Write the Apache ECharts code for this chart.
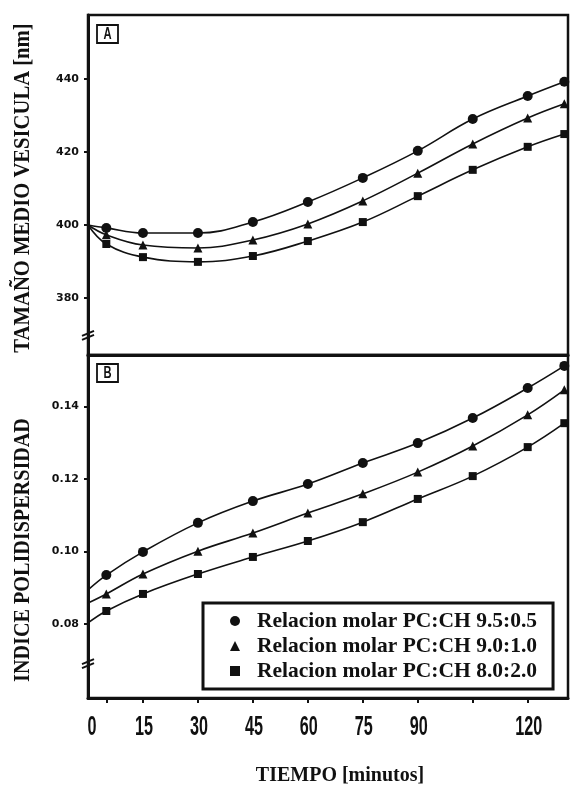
<!DOCTYPE html>
<html>
<head>
<meta charset="utf-8">
<script src="https://cdn.jsdelivr.net/npm/echarts@6/dist/echarts.min.js"></script>
<style>
html,body{margin:0;padding:0;background:#fff;}
#c{width:570px;height:787px;}
</style>
</head>
<body>
<div id="c"></div>
<script>
// ---- data ----
const times = [0, 5, 15, 30, 45, 60, 75, 90, 105, 120, 130];
const seriesNames = [
  'Relacion molar PC:CH 9.5:0.5',
  'Relacion molar PC:CH 9.0:1.0',
  'Relacion molar PC:CH 8.0:2.0'
];
// Panel A: tamaño medio vesícula [nm]
const sizeA95 = [400, 399.2, 397.8, 397.8, 400.8, 406.3, 412.9, 420.3, 429.0, 435.3, 439.2];
const sizeA90 = [400, 397.3, 394.5, 393.7, 395.9, 400.3, 406.6, 414.2, 422.2, 429.3, 433.2];
const sizeA80 = [400, 394.8, 391.2, 389.9, 391.5, 395.6, 400.8, 407.9, 415.1, 421.4, 424.9];
// Panel B: índice de polidispersidad
const pdiB95 = [0.0894, 0.0935, 0.0999, 0.1079, 0.1139, 0.1186, 0.1244, 0.1299, 0.1368, 0.1451, 0.1512];
const pdiB90 = [0.0858, 0.0883, 0.0938, 0.1001, 0.1051, 0.1106, 0.1159, 0.1219, 0.1291, 0.1377, 0.1446];
const pdiB80 = [0.0803, 0.0836, 0.0883, 0.0938, 0.0985, 0.1029, 0.1081, 0.1145, 0.1208, 0.1288, 0.1354];
// ticks / labels
const xLabelTicks = [0, 15, 30, 45, 60, 75, 90, 120];
const xTickMarks = [5, 15, 30, 45, 60, 75, 90, 105, 120];
const yTicksA = [380, 400, 420, 440];
const yTicksB = [0.08, 0.10, 0.12, 0.14];

const symbols = ['circle', 'triangle', 'rect'];
const symSizes = [10, 9, 8];

function mk(vals) {
  return times.map((t, i) => i === 0 ? { value: [t, vals[i]], symbol: 'none' } : [t, vals[i]]);
}

const chart = echarts.init(document.getElementById('c'), null, { renderer: 'canvas' });

const serif = 'Liberation Serif';
const numFont = 'DejaVu Sans';

function xAxisCfg(gridIndex, showTicks) {
  return {
    type: 'value', gridIndex, min: 0, max: 131,
    axisLine: { show: true, lineStyle: { color: '#111', width: 3 } },
    splitLine: { show: false },
    axisTick: showTicks ? { show: true, inside: false, length: 5, customValues: xTickMarks, lineStyle: { color: '#111', width: 2 } } : { show: false },
    axisLabel: { show: false }
  };
}
function yAxisCfg(gridIndex, min, max, ticks, fmt) {
  return {
    type: 'value', gridIndex, min, max,
    axisLine: { show: true, lineStyle: { color: '#111', width: 3 } },
    splitLine: { show: false },
    axisTick: { show: true, length: 4, customValues: ticks, lineStyle: { color: '#111', width: 2 } },
    axisLabel: { show: true, customValues: ticks, margin: 9, formatter: fmt,
      fontFamily: numFont, fontWeight: 'bold', fontSize: 11, color: '#111' }
  };
}

const series = [];
const dataA = [sizeA95, sizeA90, sizeA80];
const dataB = [pdiB95, pdiB90, pdiB80];
for (let k = 0; k < 3; k++) {
  series.push({
    name: seriesNames[k], type: 'line', xAxisIndex: 0, yAxisIndex: 0,
    data: mk(dataA[k]), smooth: 0.4, symbol: symbols[k], symbolSize: symSizes[k],
    showAllSymbol: true, clip: false,
    lineStyle: { color: '#111', width: 1.6 }, itemStyle: { color: '#111' }
  });
}
for (let k = 0; k < 3; k++) {
  series.push({
    name: seriesNames[k], type: 'line', xAxisIndex: 1, yAxisIndex: 1,
    data: mk(dataB[k]), smooth: 0.4, symbol: symbols[k], symbolSize: symSizes[k],
    showAllSymbol: true, clip: false,
    lineStyle: { color: '#111', width: 1.6 }, itemStyle: { color: '#111' }
  });
}

chart.setOption({
  backgroundColor: '#fff',
  animation: false,
  grid: [
    { left: 88, top: 15, width: 480, height: 340, show: true, borderColor: '#111', borderWidth: 2.5, backgroundColor: 'transparent' },
    { left: 88, top: 355, width: 480, height: 343, show: true, borderColor: '#111', borderWidth: 2.5, backgroundColor: 'transparent' }
  ],
  xAxis: [xAxisCfg(0, false), xAxisCfg(1, true)],
  yAxis: [
    yAxisCfg(0, 364.4, 457.5, yTicksA, v => String(v)),
    yAxisCfg(1, 0.0596, 0.1542, yTicksB, v => v.toFixed(2))
  ],
  legend: {
    orient: 'vertical', left: 203, top: 603,
    padding: [7, 16, 7, 27],
    itemGap: 3, itemWidth: 10, itemHeight: 10,
    borderColor: '#111', borderWidth: 3, backgroundColor: '#fff',
    data: seriesNames.map((n, i) => ({ name: n, icon: symbols[i] })),
    textStyle: { fontFamily: serif, fontWeight: 'bold', fontSize: 21.5, color: '#111', padding: [0, 0, 0, 12] },
    selectedMode: false
  },
  series
});

// decorations: axis titles, x tick labels, panel tags, axis breaks
function breakMark(p) {
  return {
    type: 'group', x: p[0], y: p[1], children: [
      { type: 'line', shape: { x1: -6, y1: 1, x2: 6, y2: -4 }, style: { stroke: '#111', lineWidth: 2 } },
      { type: 'line', shape: { x1: -6, y1: 5, x2: 6, y2: 0 }, style: { stroke: '#111', lineWidth: 2 } }
    ]
  };
}
function tag(p, letter) {
  return {
    type: 'group', x: p[0], y: p[1], children: [
      { type: 'rect', shape: { x: 0, y: 0, width: 21, height: 18 }, style: { fill: '#fff', stroke: '#111', lineWidth: 1.8 } },
      { type: 'text', x: 10.5, y: 9.5, scaleX: 0.7, style: { text: letter, fontFamily: 'Liberation Sans', fontWeight: 'bold', fontSize: 16, fill: '#111', align: 'center', verticalAlign: 'middle' } }
    ]
  };
}
const pA = chart.convertToPixel({ gridIndex: 0 }, [0, 457.5]);
const pB = chart.convertToPixel({ gridIndex: 1 }, [0, 0.1542]);
const brA = chart.convertToPixel({ gridIndex: 0 }, [0, 369.9]);
const brB = chart.convertToPixel({ gridIndex: 1 }, [0, 0.0692]);

const xLabelGraphics = xLabelTicks.map(v => {
  const p = chart.convertToPixel({ gridIndex: 1 }, [v, 0.0596]);
  return { type: 'text', x: p[0] + (v === 0 ? 4 : 1), y: p[1] + 30, scaleX: 0.6,
    style: { text: String(v), fontFamily: 'Liberation Sans', fontWeight: 'bold', fontSize: 27, fill: '#111', align: 'center', verticalAlign: 'middle' } };
});

chart.setOption({
  graphic: [
    { type: 'text', x: 23, y: 188, rotation: Math.PI / 2, scaleX: 0.86,
      style: { text: 'TAMAÑO MEDIO VESICULA [nm]', fontFamily: serif, fontWeight: 'bold', fontSize: 24, fill: '#111', align: 'center', verticalAlign: 'middle' } },
    { type: 'text', x: 23, y: 550, rotation: Math.PI / 2, scaleX: 0.84,
      style: { text: 'INDICE POLIDISPERSIDAD', fontFamily: serif, fontWeight: 'bold', fontSize: 24, fill: '#111', align: 'center', verticalAlign: 'middle' } },
    { type: 'text', x: 340, y: 776,
      style: { text: 'TIEMPO [minutos]', fontFamily: serif, fontWeight: 'bold', fontSize: 20, fill: '#111', align: 'center', verticalAlign: 'middle' } },
    tag([pA[0] + 9, pA[1] + 10], 'A'),
    tag([pB[0] + 9, pB[1] + 9], 'B'),
    breakMark(brA),
    breakMark(brB)
  ].concat(xLabelGraphics)
});
</script>
</body>
</html>
